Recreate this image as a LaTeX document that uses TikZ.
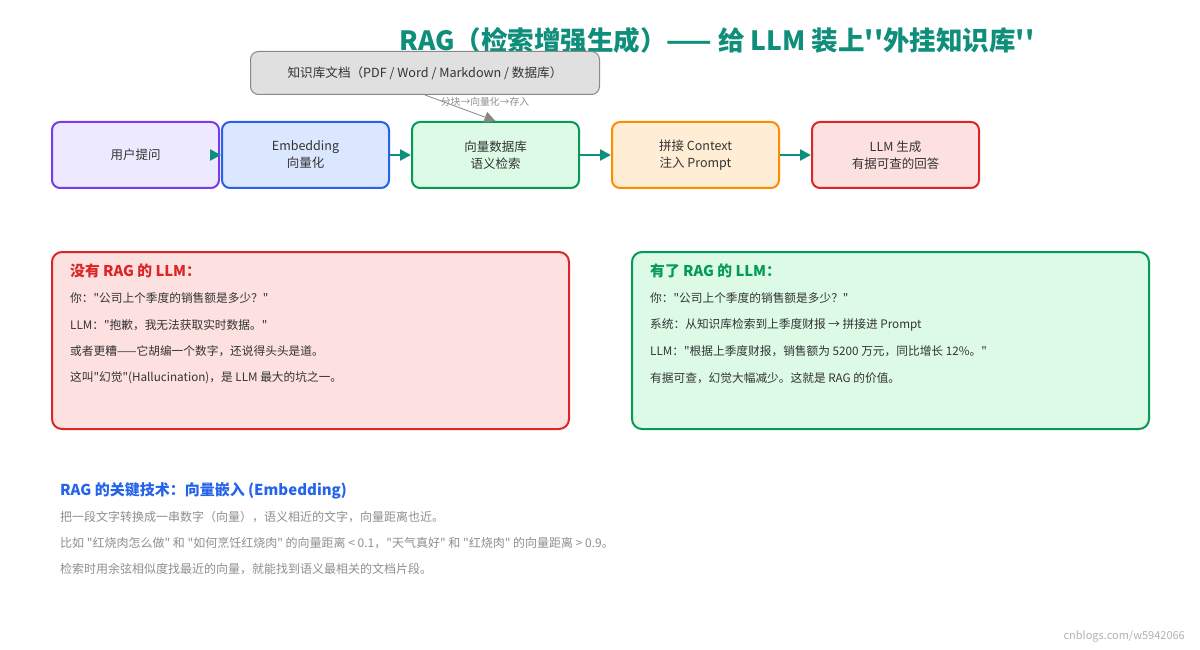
\documentclass[tikz,border=0pt]{standalone}
\usepackage{fontspec}
\setmainfont{Noto Sans CJK SC}[Ligatures=TeXOff]
\usetikzlibrary{arrows.meta}
\definecolor{teal1}{HTML}{0F8F7B}
\definecolor{txt}{HTML}{333333}
\definecolor{graytxt}{HTML}{8F8F8F}
\definecolor{pB}{HTML}{7C3AED}\definecolor{pF}{HTML}{EDE9FE}
\definecolor{bB}{HTML}{2563EB}\definecolor{bF}{HTML}{DBE7FE}
\definecolor{gB}{HTML}{059A55}\definecolor{gF}{HTML}{DCFAE6}
\definecolor{oB}{HTML}{FF8C00}\definecolor{oF}{HTML}{FFEDD5}
\definecolor{rB}{HTML}{DC2626}\definecolor{rF}{HTML}{FDE0E0}
\definecolor{docF}{HTML}{E0E0E0}\definecolor{docB}{HTML}{888888}
\begin{document}
\begin{tikzpicture}[x=1pt,y=-1pt,
  flowbox/.style={draw, line width=2pt, rounded corners=8pt, minimum width=167pt, minimum height=66pt,
    align=center, text=txt, font=\fontsize{12.5}{17}\selectfont, inner sep=2pt},
  flow/.style={draw=teal1, line width=2.2pt, -{Triangle[length=11pt,width=11pt]}, teal1},
  panel/.style={draw, line width=2pt, rounded corners=10pt, minimum width=517pt, minimum height=177pt, inner sep=0pt},
  ptitle/.style={anchor=west, inner sep=0pt, font=\bfseries\fontsize{14.8}{17}\selectfont},
  pline/.style={anchor=west, inner sep=0pt, text=txt, font=\fontsize{11.7}{14}\selectfont},
  gline/.style={anchor=west, inner sep=0pt, text=graytxt, font=\fontsize{12}{14}\selectfont},
]
\useasboundingbox[fill=white] (0,0) rectangle (1200,650);

% title
\node[text=teal1, font=\bfseries\fontsize{26.5}{30}\selectfont, inner sep=0pt] (title) at (717,40)
  {RAG（检索增强生成）—— 给 LLM 装上''外挂知识库''};

% doc box
\node[draw=docB, fill=docF, line width=1pt, rounded corners=8pt, minimum width=349pt, minimum height=43pt,
  text=txt, font=\fontsize{12.6}{15}\selectfont] (doc) at (425,73)
  {知识库文档（PDF / Word / Markdown / 数据库）};

% flow boxes
\node[flowbox, draw=pB, fill=pF] (b1) at (135.5,155) {用户提问};
\node[flowbox, draw=bB, fill=bF] (b2) at (305.5,155) {Embedding\\向量化};
\node[flowbox, draw=gB, fill=gF] (b3) at (495.5,155) {向量数据库\\语义检索};
\node[flowbox, draw=oB, fill=oF] (b4) at (695.5,155) {拼接 Context\\注入 Prompt};
\node[flowbox, draw=rB, fill=rF] (b5) at (895.5,155) {LLM 生成\\有据可查的回答};

\draw[flow] (b1.east) -- (b2.west);
\draw[flow] (b2.east) -- (b3.west);
\draw[flow] (b3.east) -- (b4.west);
\draw[flow] (b4.east) -- (b5.west);

\draw[draw=docB, line width=0.8pt, -{Triangle[length=11pt,width=11pt]}, docB] (doc.south) -- (b3.north);
\node[text=graytxt, font=\fontsize{9.8}{11}\selectfont, inner sep=0pt] (lbl) at (485,102) {分块→向量化→存入};

% panels
\node[panel, draw=rB, fill=rF] (p1) at (310.5,340.5) {};
\node[panel, draw=gB, fill=gF] (p2) at (890.5,340.5) {};

\node[ptitle, text=rB] (t1) at (70,271) {没有 RAG 的 LLM：};
\node[pline] (l11) at (70,298) {你："公司上个季度的销售额是多少？"};
\node[pline] (l12) at (70,325) {LLM："抱歉，我无法获取实时数据。"};
\node[pline] (l13) at (70,351) {或者更糟——它胡编一个数字，还说得头头是道。};
\node[pline] (l14) at (70,378) {这叫"幻觉"(Hallucination)，是 LLM 最大的坑之一。};

\node[ptitle, text=gB] (t2) at (650,271) {有了 RAG 的 LLM：};
\node[pline] (l21) at (650,298) {你："公司上个季度的销售额是多少？"};
\node[pline] (l22) at (650,325) {系统：从知识库检索到上季度财报 → 拼接进 Prompt};
\node[pline] (l23) at (650,351) {LLM："根据上季度财报，销售额为 5200 万元，同比增长 12\%。"};
\node[pline] (l24) at (650,378) {有据可查，幻觉大幅减少。这就是 RAG 的价值。};

% bottom notes
\node[ptitle, text=bB, font=\bfseries\fontsize{15}{17}\selectfont] (kt) at (60,491) {RAG 的关键技术：向量嵌入 (Embedding)};
\node[gline] (g1) at (60,517) {把一段文字转换成一串数字（向量），语义相近的文字，向量距离也近。};
\node[gline] (g2) at (60,543) {比如 "红烧肉怎么做" 和 "如何烹饪红烧肉" 的向量距离 < 0.1，"天气真好" 和 "红烧肉" 的向量距离 > 0.9。};
\node[gline] (g3) at (60,569) {检索时用余弦相似度找最近的向量，就能找到语义最相关的文档片段。};

\node[anchor=east, inner sep=0pt, text=black!30, font=\fontsize{11}{13}\selectfont] (wm) at (1185,636) {cnblogs.com/w5942066};
\end{tikzpicture}
\end{document}
